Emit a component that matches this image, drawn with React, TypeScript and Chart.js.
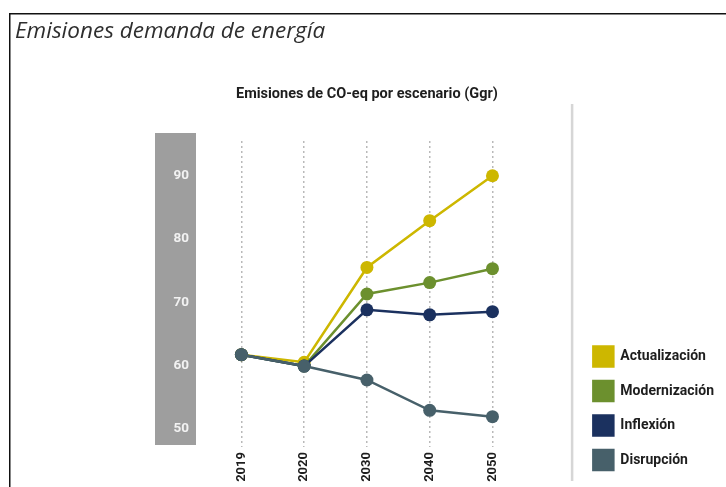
import { useEffect, useRef } from "react";
import { Chart, registerables } from "chart.js";

Chart.register(...registerables);

const years = ["2019", "2020", "2030", "2040", "2050"];
const actualizacion = [61.4, 60.2, 75.2, 82.6, 89.7];
const modernizacion = [61.4, 59.6, 71.0, 72.8, 75.0];
const inflexion = [61.4, 59.6, 68.5, 67.7, 68.2];
const disrupcion = [61.4, 59.6, 57.4, 52.6, 51.6];
const yTicks = [50, 60, 70, 80, 90];
const seriesNames = ["Actualización", "Modernización", "Inflexión", "Disrupción"];
const seriesColors = ["#CDB700", "#6C902E", "#1B315F", "#47606A"];
const mainTitle = "Emisiones demanda de energía";
const subTitle = "Emisiones de CO-eq por escenario (Ggr)";

const decor = {
  id: "decor",
  beforeDraw(chart: any) {
    const ctx = chart.ctx;
    const ca = chart.chartArea;
    const y = chart.scales.y;
    ctx.save();
    ctx.fillStyle = "#ffffff";
    ctx.fillRect(0, 0, chart.width, chart.height);
    // frame
    ctx.strokeStyle = "#111111";
    ctx.lineWidth = 1.5;
    ctx.beginPath();
    ctx.moveTo(9.75, chart.height);
    ctx.lineTo(9.75, 13.75);
    ctx.lineTo(chart.width, 13.75);
    ctx.stroke();
    // grey band behind y labels
    ctx.fillStyle = "#9e9e9e";
    ctx.fillRect(y.right - 55, ca.top - 8, 41, ca.bottom - ca.top + 6);
    // separator before legend
    const lg = chart.legend;
    ctx.fillStyle = "#d6d6d6";
    ctx.fillRect(lg.left - 8, 104, 2.5, 377);
    ctx.restore();
  },
};

export default function App() {
  const ref = useRef<HTMLCanvasElement>(null);
  useEffect(() => {
    if (!ref.current) return;
    const series = [actualizacion, modernizacion, inflexion, disrupcion];
    const chart = new Chart(ref.current, {
      type: "line",
      data: {
        labels: years,
        datasets: series.map((d, i) => ({
          label: seriesNames[i],
          data: d,
          borderColor: seriesColors[i],
          backgroundColor: seriesColors[i],
          pointBackgroundColor: seriesColors[i],
          pointBorderColor: seriesColors[i],
          borderWidth: 2.5,
          pointRadius: 6.5,
          pointBorderWidth: 0,
          tension: 0,
          order: 3 - i,
        })),
      },
      options: {
        responsive: false,
        animation: false,
        devicePixelRatio: 1,
        layout: { padding: { left: 15, top: 14, right: 2, bottom: 2.5 } },
        plugins: {
          tooltip: { enabled: false },
          title: {
            display: true,
            text: mainTitle,
            align: "start",
            color: "#2e2e2e",
            font: { family: "'Open Sans'", size: 22.5, style: "italic", weight: "normal" },
            padding: { top: 4.5, bottom: 0 },
          },
          subtitle: {
            display: true,
            text: subTitle,
            fullSize: false,
            color: "#1e1e1e",
            font: { family: "Roboto", size: 14.5, weight: "bold" },
            padding: { top: 39.8, bottom: 38.3 },
          },
          legend: {
            position: "right",
            align: "end",
            maxWidth: 170,
            labels: {
              boxWidth: 20,
              boxHeight: 20,
              padding: 14.5,
              color: "#1e1e1e",
              font: { family: "Roboto", size: 14, weight: "bold" },
              sort: (a: any, b: any) => a.datasetIndex - b.datasetIndex,
            },
          },
        },
        scales: {
          x: {
            offset: true,
            grid: {
              display: true,
              drawTicks: false,
              color: "#b9b9b9",
              lineWidth: 1.5,
              offset: false,
            },
            border: { display: false, dash: [2, 3] },
            ticks: {
              autoSkip: false,
              maxRotation: 90,
              minRotation: 90,
              padding: 5,
              color: "#1e1e1e",
              font: { family: "Roboto", size: 13, weight: "bold" },
            },
            afterFit: (s: any) => {
              s.height = 37.5;
            },
          },
          y: {
            min: 46.8,
            max: 95.2,
            grid: { display: false, drawTicks: false },
            border: { display: false },
            afterBuildTicks: (s: any) => {
              s.ticks = yTicks.map((v) => ({ value: v }));
            },
            ticks: {
              padding: 21,
              labelOffset: 2,
              color: "#f2f2f2",
              font: { family: "Roboto", size: 13.5, weight: "bold" },
            },
            afterFit: (s: any) => {
              s.width = 195;
            },
          },
          y2: {
            position: "right",
            display: true,
            grid: { display: false, drawTicks: false },
            border: { display: false },
            ticks: { display: false },
            afterFit: (s: any) => {
              s.width = 55;
            },
          },
        },
      },
      plugins: [decor],
    } as any);
    return () => chart.destroy();
  }, []);
  return (
    <div style={{ position: "absolute", left: 0, top: 0, width: 726, height: 487 }}>
      <canvas ref={ref} width={726} height={487} style={{ display: "block" }} />
    </div>
  );
}
